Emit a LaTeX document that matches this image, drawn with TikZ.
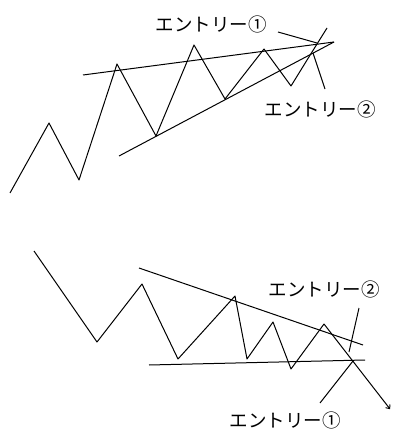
\documentclass[tikz,border=0pt]{standalone}
\usepackage{fontspec}
\newfontfamily\jpfont{Noto Sans CJK JP}
\usetikzlibrary{arrows.meta}

\begin{document}
\begin{tikzpicture}[x=1pt,y=-1pt,line width=1pt,line join=round,
    font=\jpfont\fontsize{18.5}{20}\selectfont,
    pointer/.style={line width=1pt}]
  \useasboundingbox (0,0) rectangle (392,430);
  % rising wedge
  \draw (10,193)--(49,123)--(79,180)--(117,64)--(156,136)--(194,45)
    --(225,99)--(264,49)--(291,86)--(312,52)--(327,28);
  \coordinate (apex) at (334,42);
  \draw (83,75)--(apex);
  \draw (119,156)--(apex);
  \coordinate (upbreak) at (317,43);
  \coordinate (lowtouch) at (313,53);
  \coordinate (tailA) at (278,32);
  \coordinate (tailB) at (325,89);

  \node (entryAtop) at (211,24) {エントリー①};
  \node (entryBtop) at (320,109) {エントリー②};
  \draw[pointer] (tailA)--(upbreak);
  \draw[pointer] (tailB)--(lowtouch);

  % falling wedge
  \draw[-{To[length=4pt,width=6pt]}] (34,251)--(97,342)--(142,284)--(178,359)
    --(235,296)--(247,359)--(273,322)--(291,369)--(324,324)--(390,409);
  \draw (139,268)--(363,345);
  \draw (149,365)--(365,360);
  \coordinate (downbreak) at (353,361);
  \coordinate (uptouch) at (349,352);
  \coordinate (tailC) at (320,403);
  \coordinate (tailD) at (359,308);

  \node (entryAbot) at (285,420) {エントリー①};
  \node (entryBbot) at (324,289) {エントリー②};
  \draw[pointer] (tailC)--(downbreak);
  \draw[pointer] (tailD)--(uptouch);
\end{tikzpicture}
\end{document}
